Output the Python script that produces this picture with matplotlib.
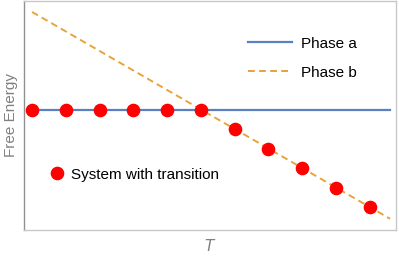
import matplotlib
matplotlib.use('Agg')
import matplotlib.pyplot as plt

plt.rcParams['font.family'] = ['Liberation Sans', 'DejaVu Sans']

# temperature axis (arbitrary units) and free energies
T_line = [0.0, 1.06]
phase_a = [0.0, 0.0]
phase_b = [0.5, -0.56]

# system follows the lower of the two phases
T_dots = [0.0, 0.1, 0.2, 0.3, 0.4, 0.5, 0.6, 0.7, 0.8, 0.9, 1.0]
F_dots = [0.0, 0.0, 0.0, 0.0, 0.0, 0.0, -0.1, -0.2, -0.3, -0.4, -0.5]

fig = plt.figure(figsize=(3.99, 2.56), dpi=100)
ax = fig.add_axes([0.060, 0.102, 0.932, 0.894])

la, = ax.plot(T_line, phase_a, color='#5b7fbf', lw=1.6, label='Phase a')
lb, = ax.plot(T_line, phase_b, color='#e8a33a', lw=1.4, ls=(0, (3.5, 2.2)), label='Phase b')
ld, = ax.plot(T_dots, F_dots, 'o', color='#ff0000', ms=8.8, ls='none', zorder=3,
              label='System with transition')

ax.set_xlim(-0.024, 1.077)
ax.set_ylim(-0.617, 0.556)
ax.set_xticks([])
ax.set_yticks([])

for s in ['top', 'right', 'bottom']:
    ax.spines[s].set_color('#c8c8c8')
ax.spines['left'].set_color('#909090')
for s in ax.spines.values():
    s.set_linewidth(1.0)

ax.set_xlabel('$T$', color='#808080', fontsize=11, labelpad=6)
ax.set_ylabel('Free Energy', color='#808080', fontsize=11, labelpad=4)

leg1 = ax.legend(handles=[la, lb], loc='upper left', bbox_to_anchor=(0.566, 0.905),
                 frameon=False, fontsize=11, handlelength=2.85, labelspacing=1.0,
                 handletextpad=0.6)
ax.add_artist(leg1)
ax.legend(handles=[ld], loc='upper left', bbox_to_anchor=(0.031, 0.332),
          frameon=False, fontsize=11, handlelength=1.0, handletextpad=0.4)

fig.savefig('out.png', dpi=100)
